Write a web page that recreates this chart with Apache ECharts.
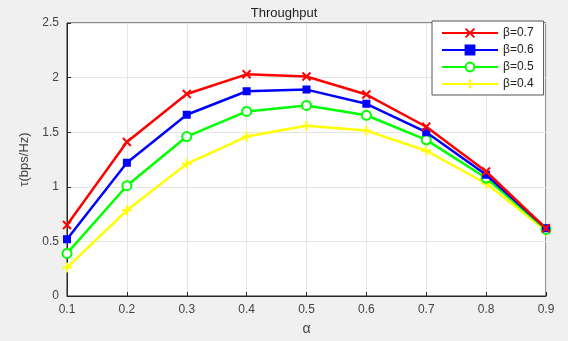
<!DOCTYPE html>
<html><head><meta charset="utf-8">
<script src="https://cdn.jsdelivr.net/npm/echarts@6/dist/echarts.min.js"></script>
<style>html,body{margin:0;padding:0;background:#f0f0f0;}#c{width:568px;height:341px;}</style>
</head><body><div id="c"></div>
<script>
const categories = ['0.1','0.2','0.3','0.4','0.5','0.6','0.7','0.8','0.9'];
const yTicks = [0, 0.5, 1, 1.5, 2, 2.5];
const seriesNames = ['β=0.7','β=0.6','β=0.5','β=0.4'];
const beta07 = [0.65, 1.41, 1.85, 2.03, 2.01, 1.845, 1.55, 1.14, 0.62];
const beta06 = [0.52, 1.22, 1.66, 1.875, 1.89, 1.76, 1.50, 1.11, 0.62];
const beta05 = [0.39, 1.01, 1.46, 1.69, 1.745, 1.655, 1.43, 1.08, 0.61];
const beta04 = [0.26, 0.785, 1.21, 1.46, 1.56, 1.515, 1.33, 1.03, 0.60];

const colors = ['#ff0000','#0000ff','#00ff00','#ffff00'];
const symbols = ['path://M0,0L10,10M10,0L0,10', 'rect', 'emptyCircle', 'path://M5,0L5,10M0,5L10,5'];
const symbolSizes = [8, 6, 9, 10];
const dataSets = [beta07, beta06, beta05, beta04];

const chart = echarts.init(document.getElementById('c'), null, {renderer:'canvas'});
chart.setOption({
  backgroundColor: '#f0f0f0',
  animation: false,
  title: { text: 'Throughput', left: 'center', top: 2, textStyle: { fontSize: 13, fontWeight: 'normal', color: '#222', fontFamily: 'Liberation Sans' } },
  grid: { left: 67, right: 22, top: 23, bottom: 43, show: true, backgroundColor: '#ffffff', borderColor: '#262626', borderWidth: 1 },
  legend: {
    orient: 'vertical', left: 432, top: 21, width: 118,
    backgroundColor: '#ffffff', borderColor: '#555', borderWidth: 1,
    padding: [6, 10, 5, 9], itemGap: 5, itemWidth: 56, itemHeight: 11,
    textStyle: { fontSize: 12, color: '#222', fontFamily: 'Liberation Sans' },
    data: seriesNames
  },
  xAxis: {
    type: 'category', data: categories, boundaryGap: false,
    name: 'α', nameLocation: 'middle', nameGap: 26,
    nameTextStyle: { fontSize: 14, color: '#444', fontFamily: 'Liberation Sans' },
    axisLine: { lineStyle: { color: '#262626' } },
    axisTick: { inside: true, length: 4, lineStyle: { color: '#262626' } },
    axisLabel: { fontSize: 12, color: '#444', margin: 8, fontFamily: 'Liberation Sans' },
    splitLine: { show: true, lineStyle: { color: '#e6e6e6' } }
  },
  yAxis: {
    type: 'value', min: yTicks[0], max: yTicks[yTicks.length-1], interval: 0.5,
    name: 'τ(bps/Hz)', nameLocation: 'middle', nameGap: 36, nameRotate: 90,
    nameTextStyle: { fontSize: 13, color: '#444', fontFamily: 'Liberation Sans' },
    axisLine: { show: true, lineStyle: { color: '#262626' } },
    axisTick: { show: true, inside: true, length: 4, lineStyle: { color: '#262626' } },
    axisLabel: { fontSize: 12, color: '#444', margin: 8, fontFamily: 'Liberation Sans' },
    splitLine: { show: true, lineStyle: { color: '#e6e6e6' } }
  },
  series: dataSets.map((d, i) => ({
    name: seriesNames[i], type: 'line', data: d,
    symbol: symbols[i], symbolSize: symbolSizes[i], showAllSymbol: true,
    lineStyle: { color: colors[i], width: 2.5 },
    itemStyle: { color: colors[i], borderColor: colors[i], borderWidth: i === 2 ? 1.5 : 2 },
    z: 10 - i
  }))
});
</script></body></html>
